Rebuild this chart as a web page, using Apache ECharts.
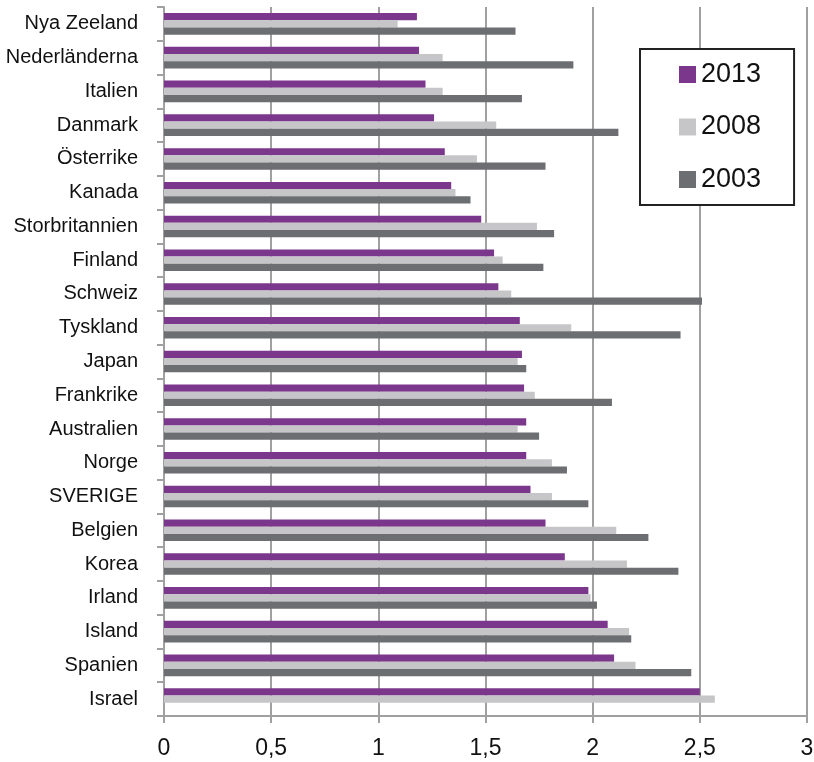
<!DOCTYPE html>
<html>
<head>
<meta charset="utf-8">
<script src="https://cdn.jsdelivr.net/npm/echarts@6/dist/echarts.min.js"></script>
<style>html,body{margin:0;padding:0;background:#fff;}#c{width:814px;height:762px;}</style>
</head>
<body>
<div id="c"></div>
<script>
const categories = ["Nya Zeeland","Nederländerna","Italien","Danmark","Österrike","Kanada","Storbritannien","Finland","Schweiz","Tyskland","Japan","Frankrike","Australien","Norge","SVERIGE","Belgien","Korea","Irland","Island","Spanien","Israel"];
const s2013 = [1.18,1.19,1.22,1.26,1.31,1.34,1.48,1.54,1.56,1.66,1.67,1.68,1.69,1.69,1.71,1.78,1.87,1.98,2.07,2.10,2.50];
const s2008 = [1.09,1.30,1.30,1.55,1.46,1.36,1.74,1.58,1.62,1.90,1.65,1.73,1.65,1.81,1.81,2.11,2.16,1.99,2.17,2.20,2.57];
const s2003 = [1.64,1.91,1.67,2.12,1.78,1.43,1.82,1.77,2.51,2.41,1.69,2.09,1.75,1.88,1.98,2.26,2.40,2.02,2.18,2.46,null];
const seriesNames = ["2013","2008","2003"];
const xTicks = {min:0, max:3, interval:0.5};

const FONT = "'Liberation Sans Narrow','Arial Narrow','Liberation Sans',sans-serif";
const colors = ['#7B378C','#C6C6C8','#6D6E71'];
const chart = echarts.init(document.getElementById('c'), null, {renderer:'canvas'});
const mk = (name, data, i) => ({
  name, type:'bar', data, barWidth:7.2, barGap:'0%',
  itemStyle:{color:colors[i]}, emphasis:{disabled:true}, animation:false
});
chart.setOption({
  animation:false,
  textStyle:{fontFamily:FONT},
  grid:{left:164, right:7, top:7, bottom:46, containLabel:false, outerBoundsMode:'none'},
  legend:{
    data:seriesNames, orient:'vertical', left:640, top:49,
    padding:[12,33,12,39], borderColor:'#222', borderWidth:2, backgroundColor:'#fff',
    itemWidth:17, itemHeight:17, itemGap:25.5, icon:'rect',
    textStyle:{fontFamily:FONT, fontSize:27, color:'#111', lineHeight:27}
  },
  xAxis:{
    type:'value', min:xTicks.min, max:xTicks.max, interval:xTicks.interval,
    axisLine:{show:true, lineStyle:{color:'#A0A0A0', width:2}},
    axisTick:{show:true, length:7, lineStyle:{color:'#A0A0A0', width:2}},
    splitLine:{show:true, lineStyle:{color:'#A0A0A0', width:2}},
    axisLabel:{fontFamily:FONT, fontSize:23, color:'#111', margin:21,
      formatter:v=>String(v).replace('.',',')}
  },
  yAxis:{
    type:'category', data:categories, inverse:true,
    axisLine:{show:true, lineStyle:{color:'#A0A0A0', width:2}},
    axisTick:{show:true, length:7, lineStyle:{color:'#A0A0A0', width:2}},
    splitLine:{show:false},
    axisLabel:{fontFamily:FONT, fontSize:20, color:'#111', margin:26}
  },
  series:[mk(seriesNames[0], s2013, 0), mk(seriesNames[1], s2008, 1), mk(seriesNames[2], s2003, 2)]
});
</script>
</body>
</html>
